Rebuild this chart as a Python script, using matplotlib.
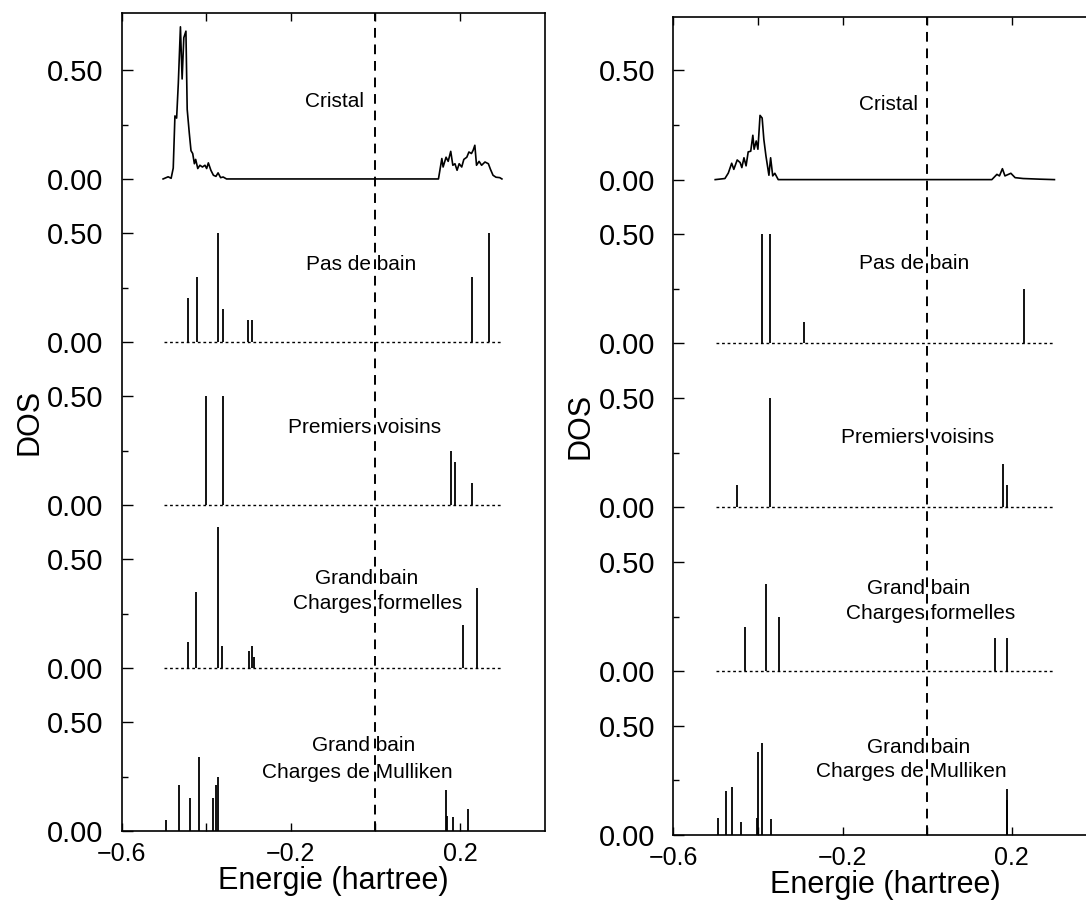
import matplotlib
matplotlib.use("Agg")
import matplotlib.pyplot as plt
import numpy as np

plt.rcParams['font.family'] = ['Liberation Sans', 'DejaVu Sans']

# ---- data (energies in hartree, DOS heights) ----
offsets = [0.0, 0.75, 1.5, 2.25, 3.0]

# left panel
cristal_L_x = [-0.502, -0.490, -0.483, -0.478, -0.474, -0.470, -0.466, -0.461, -0.457, -0.453,
               -0.448, -0.445, -0.440, -0.436, -0.432, -0.428, -0.425, -0.420, -0.415, -0.409,
               -0.403, -0.399, -0.395, -0.389, -0.383, -0.377, -0.372, -0.366, -0.360, -0.352,
               0.149, 0.157, 0.160, 0.167, 0.172, 0.178, 0.183, 0.188, 0.193, 0.198,
               0.204, 0.209, 0.216, 0.221, 0.227, 0.231, 0.235, 0.239, 0.245, 0.251,
               0.259, 0.267, 0.272, 0.278, 0.285, 0.294, 0.299]
cristal_L_y = [0.0, 0.01, 0.003, 0.05, 0.29, 0.28, 0.44, 0.70, 0.46, 0.65,
               0.68, 0.32, 0.21, 0.13, 0.117, 0.07, 0.09, 0.048, 0.063, 0.055,
               0.063, 0.048, 0.074, 0.04, 0.017, 0.012, 0.028, 0.006, 0.009, 0.0,
               0.0, 0.094, 0.055, 0.10, 0.081, 0.127, 0.063, 0.07, 0.04, 0.07,
               0.055, 0.09, 0.10, 0.124, 0.117, 0.132, 0.155, 0.063, 0.081, 0.063,
               0.078, 0.07, 0.044, 0.017, 0.008, 0.006, 0.0]

pas_L_x = [-0.442, -0.422, -0.372, -0.361, -0.301, -0.292, 0.228, 0.269]
pas_L_h = [0.20, 0.30, 0.50, 0.15, 0.10, 0.10, 0.30, 0.50]

prem_L_x = [-0.401, -0.361, 0.178, 0.189, 0.228]
prem_L_h = [0.50, 0.50, 0.25, 0.20, 0.10]

form_L_x = [-0.443, -0.424, -0.372, -0.362, -0.300, -0.291, -0.287, 0.208, 0.240]
form_L_h = [0.12, 0.35, 0.65, 0.10, 0.08, 0.10, 0.05, 0.20, 0.37]

mull_L_x = [-0.496, -0.465, -0.438, -0.418, -0.383, -0.376, -0.372, 0.166, 0.169, 0.184, 0.220]
mull_L_h = [0.05, 0.21, 0.153, 0.342, 0.153, 0.21, 0.25, 0.19, 0.07, 0.063, 0.10]

# right panel
cristal_R_x = [-0.501, -0.478, -0.470, -0.462, -0.457, -0.449, -0.442, -0.438, -0.433, -0.428,
               -0.423, -0.417, -0.412, -0.409, -0.404, -0.400, -0.395, -0.390, -0.386, -0.381,
               -0.374, -0.370, -0.365, -0.360, -0.352, 0.153, 0.165, 0.171, 0.178, 0.184,
               0.198, 0.208, 0.227, 0.267, 0.301]
cristal_R_y = [0.0, 0.005, 0.03, 0.075, 0.047, 0.09, 0.078, 0.055, 0.10, 0.063,
               0.127, 0.13, 0.203, 0.139, 0.177, 0.139, 0.294, 0.282, 0.184, 0.108,
               0.02, 0.10, 0.017, 0.029, 0.0, 0.0, 0.024, 0.017, 0.05, 0.017,
               0.029, 0.009, 0.005, 0.002, 0.0]

pas_R_x = [-0.391, -0.371, -0.291, 0.230]
pas_R_h = [0.50, 0.50, 0.10, 0.25]

prem_R_x = [-0.450, -0.371, 0.179, 0.189]
prem_R_h = [0.10, 0.50, 0.20, 0.10]

form_R_x = [-0.430, -0.380, -0.350, 0.160, 0.190]
form_R_h = [0.20, 0.40, 0.25, 0.152, 0.152]

mull_R_x = [-0.495, -0.475, -0.462, -0.440, -0.402, -0.399, -0.390, -0.369, 0.188, 0.190]
mull_R_h = [0.08, 0.20, 0.22, 0.06, 0.08, 0.38, 0.42, 0.072, 0.21, 0.16]

panels = [
    dict(cristal=(cristal_L_x, cristal_L_y),
         sticks=[(mull_L_x, mull_L_h), (form_L_x, form_L_h), (prem_L_x, prem_L_h), (pas_L_x, pas_L_h)],
         labels=[("Cristal", -0.096, 3.355), ("Pas de bain", -0.033, 2.608),
                 ("Premiers voisins", -0.025, 1.855),
                 ("Grand bain", -0.020, 1.16), ("Charges formelles", 0.005, 1.045),
                 ("Grand bain", -0.028, 0.393), ("Charges de Mulliken", -0.044, 0.267)],
         rect=[0.112, 0.0787, 0.3895, 0.907], ytop=3.764),
    dict(cristal=(cristal_R_x, cristal_R_y),
         sticks=[(mull_R_x, mull_R_h), (form_R_x, form_R_h), (prem_R_x, prem_R_h), (pas_R_x, pas_R_h)],
         labels=[("Cristal", -0.092, 3.343), ("Pas de bain", -0.030, 2.616),
                 ("Premiers voisins", -0.023, 1.819),
                 ("Grand bain", -0.021, 1.128), ("Charges formelles", 0.008, 1.013),
                 ("Grand bain", -0.021, 0.40), ("Charges de Mulliken", -0.038, 0.29)],
         rect=[0.62, 0.0743, 0.3895, 0.907], ytop=3.745),
]

fig = plt.figure(figsize=(10.86, 9.02), dpi=100)

for p in panels:
    ax = fig.add_axes(p['rect'])
    # stick spectra
    for off, (xs, hs) in zip(offsets[:4], p['sticks']):
        if off > 0:
            ax.plot([-0.5, 0.3], [off, off], color='black', lw=1.0, ls=(0, (2, 2)))
        ax.vlines(xs, off, off + np.array(hs), color='black', lw=1.3)
    cx, cy = p['cristal']
    ax.plot(cx, np.array(cy) + offsets[4], color='black', lw=1.2)

    ax.axvline(0.0, color='black', lw=1.4, ls=(0, (5, 3.5)))

    for txt, x, y in p['labels']:
        ax.text(x, y, txt, ha='center', va='center', fontsize=15)

    ax.set_xlim(-0.6, 0.4)
    ax.set_ylim(0, p['ytop'])
    ax.set_xticks([-0.6, -0.2, 0.2])
    ax.set_xticklabels(['\u22120.6', '\u22120.2', '0.2'])
    ax.set_xticks([-0.4, 0.0], minor=True)
    yt = [o for o in offsets] + [o + 0.5 for o in offsets]
    ax.set_yticks(yt)
    ax.set_yticklabels(['0.00'] * len(offsets) + ['0.50'] * len(offsets))
    ax.set_yticks([o + 0.25 for o in offsets], minor=True)
    ax.tick_params(axis='y', which='major', direction='in', length=8, width=1,
                   labelsize=21, pad=13)
    ax.tick_params(axis='y', which='minor', direction='in', length=4, width=1)
    ax.tick_params(axis='x', which='both', direction='in', top=True, length=6, width=1,
                   labelsize=18, pad=8)
    for s in ax.spines.values():
        s.set_linewidth(1.2)
    ax.set_xlabel('Energie (hartree)', fontsize=22, labelpad=0)
    ax.set_ylabel('DOS', fontsize=22, labelpad=2)

fig.savefig('out.png', dpi=100)
